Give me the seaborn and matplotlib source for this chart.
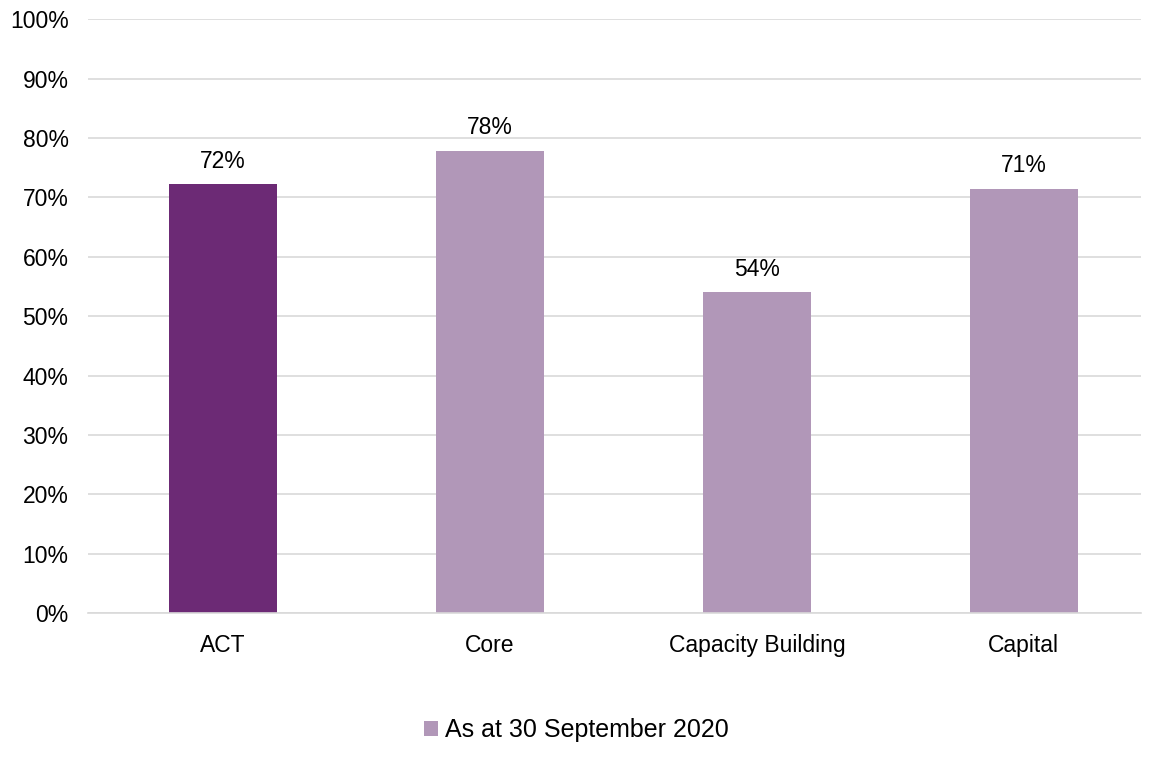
import matplotlib
matplotlib.use("Agg")
import matplotlib.pyplot as plt
import seaborn as sns
import pandas as pd
from matplotlib.patches import Patch
from matplotlib.ticker import FuncFormatter

categories = ["ACT", "Core", "Capacity Building", "Capital"]
values = [0.722, 0.779, 0.540, 0.715]
labels = ["72%", "78%", "54%", "71%"]
bar_colors = ["#6C2A75", "#B197B8", "#B197B8", "#B197B8"]
legend_label = "As at 30 September 2020"

sns.set_style("white")
plt.rcParams["font.family"] = ["Liberation Sans", "DejaVu Sans"]
plt.rcParams["text.color"] = "black"

FS = 16.5

df = pd.DataFrame({"cat": categories, "val": values})

fig = plt.figure(figsize=(11.53, 7.73), dpi=100)
ax = fig.add_axes([0.0763, 0.207, 0.913, 0.768])

sns.barplot(data=df, x="cat", y="val", hue="cat", palette=bar_colors,
            legend=False, width=0.405, ax=ax, saturation=1, linewidth=0)

ax.set_ylim(0, 1.0)
ax.set_xlim(-0.506, 3.438)
ax.set_yticks([i / 10 for i in range(11)])
ax.yaxis.set_major_formatter(FuncFormatter(lambda v, p: f"{v*100:.0f}%"))
ax.grid(axis="y", color="#D9D9D9", linewidth=1.2)
ax.set_axisbelow(True)
for s in ["top", "right", "left"]:
    ax.spines[s].set_visible(False)
ax.spines["bottom"].set_color("#D9D9D9")
ax.spines["bottom"].set_linewidth(1.2)
ax.tick_params(axis="both", length=0, labelsize=FS, colors="black")
ax.tick_params(axis="x", pad=15)
ax.tick_params(axis="y", pad=14)
ax.set_xlabel("")
ax.set_ylabel("")

for i, (v, lab) in enumerate(zip(values, labels)):
    ax.annotate(lab, (i, v), xytext=(0, 8), textcoords="offset points",
                ha="center", va="bottom", fontsize=FS, color="black")

handles = [Patch(facecolor="#B197B8", edgecolor="none")]
fig.legend(handles, [legend_label], loc="center", bbox_to_anchor=(0.5, 1 - 730 / 773),
           frameon=False, fontsize=18, handlelength=0.55, handleheight=0.55,
           handletextpad=0.3, labelcolor="black")

fig.savefig("out.png", dpi=100)
